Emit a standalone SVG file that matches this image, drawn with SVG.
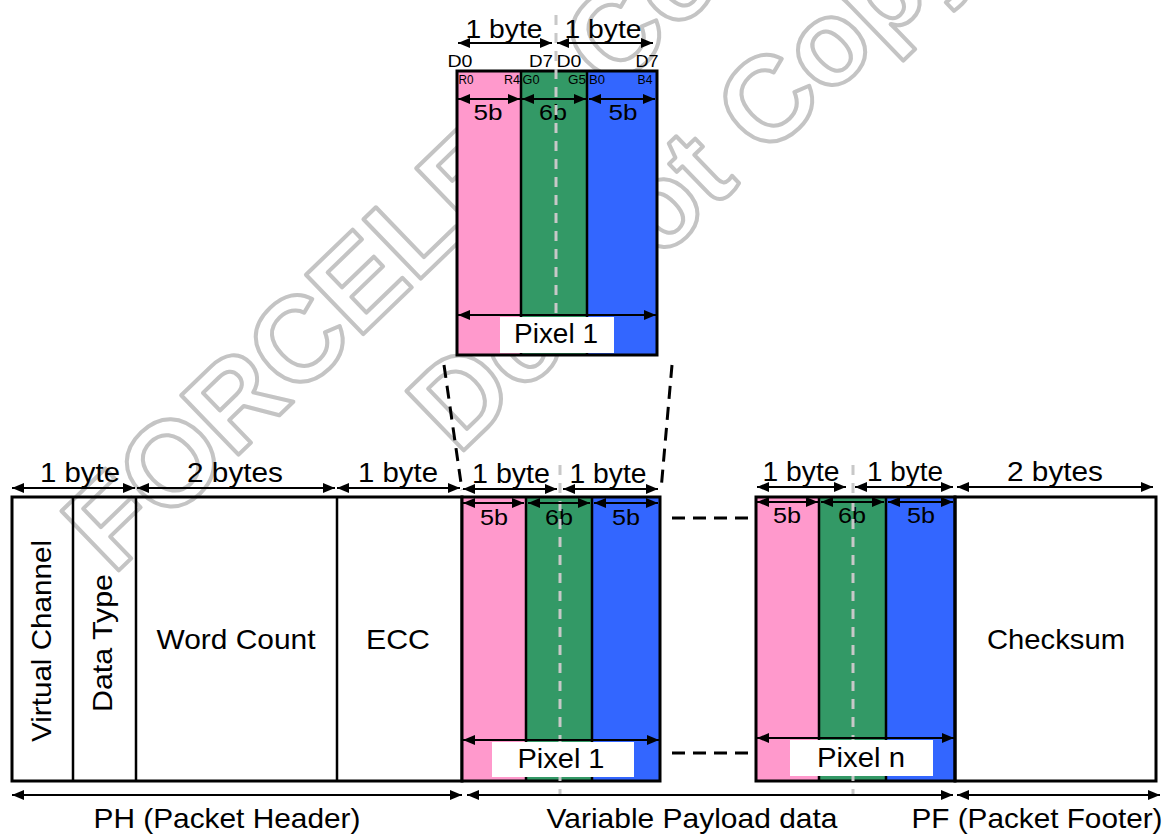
<svg xmlns="http://www.w3.org/2000/svg" width="1165" height="835" viewBox="0 0 1165 835">
<defs>
<marker id="ah" viewBox="0 0 12 10" refX="12" refY="5" markerWidth="12" markerHeight="10" markerUnits="userSpaceOnUse" orient="auto-start-reverse"><path d="M0,0 L12,5 L0,10 z" fill="#000"/></marker>
</defs>
<style>
.t{font-family:"Liberation Sans",Arial,sans-serif;fill:#000;text-anchor:middle}
.box{fill:none;stroke:#000;stroke-width:3}
.dv{stroke:#000;stroke-width:2.5}
.dim{stroke:#000;stroke-width:2;fill:none;marker-start:url(#ah);marker-end:url(#ah)}
.gd{stroke:#c8c8c8;stroke-width:3;stroke-dasharray:10 8}
.bd{stroke:#000;stroke-width:3;stroke-dasharray:13 8}
.wm{font-family:"Liberation Sans",Arial,sans-serif;font-weight:bold;font-size:120px;fill:none;stroke:#c4c4c4;stroke-width:4;stroke-linejoin:round}
.pk{fill:#ff99cc}.gr{fill:#339966}.bl{fill:#3366ff}
.wl{fill:#fff}
</style>
<rect width="1165" height="835" fill="#fff"/>

<g id="watermark">
<text class="wm" transform="translate(113,576) rotate(-44)">FORCELED Confidential</text>
<text class="wm" transform="translate(458,456) rotate(-44)">Do Not Copy</text>
</g>

<g id="packet-header">
<rect class="box" x="12" y="497" width="450" height="284"/>
<line class="dv" x1="73" y1="497" x2="73" y2="781"/>
<line class="dv" x1="136" y1="497" x2="136" y2="781"/>
<line class="dv" x1="337" y1="497" x2="337" y2="781"/>
<text class="t" font-size="28" transform="translate(51,641) rotate(-90)" textLength="202" lengthAdjust="spacingAndGlyphs">Virtual Channel</text>
<text class="t" font-size="28" transform="translate(112,643) rotate(-90)" textLength="138" lengthAdjust="spacingAndGlyphs">Data Type</text>
<text class="t" font-size="28" x="236" y="649" textLength="159" lengthAdjust="spacingAndGlyphs">Word Count</text>
<text class="t" font-size="28" x="398" y="649" textLength="64" lengthAdjust="spacingAndGlyphs">ECC</text>
</g>

<g id="pixel-zoom">
<rect class="pk" x="457" y="71" width="64" height="284"/>
<rect class="gr" x="521" y="71" width="66" height="284"/>
<rect class="bl" x="587" y="71" width="70" height="284"/>
<line class="dv" x1="521" y1="71" x2="521" y2="355"/>
<line class="dv" x1="587" y1="71" x2="587" y2="355"/>
<rect class="box" x="457" y="71" width="200" height="284"/>
<text class="t" font-size="16" x="460" y="67" textLength="25" lengthAdjust="spacingAndGlyphs">D0</text>
<text class="t" font-size="16" x="541" y="67" textLength="24" lengthAdjust="spacingAndGlyphs">D7</text>
<text class="t" font-size="16" x="569" y="67" textLength="25" lengthAdjust="spacingAndGlyphs">D0</text>
<text class="t" font-size="16" x="647" y="67" textLength="23" lengthAdjust="spacingAndGlyphs">D7</text>
<text class="t" font-size="12" x="466" y="84" textLength="15" lengthAdjust="spacingAndGlyphs">R0</text>
<text class="t" font-size="12" x="512" y="84" textLength="16" lengthAdjust="spacingAndGlyphs">R4</text>
<text class="t" font-size="12" x="531" y="84" textLength="17" lengthAdjust="spacingAndGlyphs">G0</text>
<text class="t" font-size="12" x="577" y="84" textLength="18" lengthAdjust="spacingAndGlyphs">G5</text>
<text class="t" font-size="12" x="597" y="84" textLength="16" lengthAdjust="spacingAndGlyphs">B0</text>
<text class="t" font-size="12" x="645" y="84" textLength="15" lengthAdjust="spacingAndGlyphs">B4</text>
<text class="t" font-size="22" x="488" y="120" textLength="29" lengthAdjust="spacingAndGlyphs">5b</text>
<text class="t" font-size="22" x="553" y="120" textLength="28" lengthAdjust="spacingAndGlyphs">6b</text>
<text class="t" font-size="22" x="623" y="120" textLength="29" lengthAdjust="spacingAndGlyphs">5b</text>
<line class="gd" x1="556" y1="15" x2="556" y2="355"/>
<rect class="wl" x="500" y="317" width="114" height="36"/>
<text class="t" font-size="28" x="556" y="343" textLength="84" lengthAdjust="spacingAndGlyphs">Pixel 1</text>
</g>

<g id="pixel-1">
<rect class="pk" x="462" y="497" width="64" height="284"/>
<rect class="gr" x="526" y="497" width="66" height="284"/>
<rect class="bl" x="592" y="497" width="68" height="284"/>
<line class="dv" x1="526" y1="497" x2="526" y2="781"/>
<line class="dv" x1="592" y1="497" x2="592" y2="781"/>
<rect class="box" x="462" y="497" width="198" height="284"/>
<text class="t" font-size="22" x="494" y="525" textLength="28" lengthAdjust="spacingAndGlyphs">5b</text>
<text class="t" font-size="22" x="559" y="525" textLength="28" lengthAdjust="spacingAndGlyphs">6b</text>
<text class="t" font-size="22" x="626" y="525" textLength="28" lengthAdjust="spacingAndGlyphs">5b</text>
<line class="gd" x1="560" y1="465" x2="560" y2="796"/>
<rect class="wl" x="492" y="742" width="142" height="35"/>
<text class="t" font-size="28" x="561" y="768" textLength="87" lengthAdjust="spacingAndGlyphs">Pixel 1</text>
</g>

<g id="pixel-n">
<rect class="pk" x="756" y="497" width="63" height="284"/>
<rect class="gr" x="819" y="497" width="67" height="284"/>
<rect class="bl" x="886" y="497" width="69" height="284"/>
<line class="dv" x1="819" y1="497" x2="819" y2="781"/>
<line class="dv" x1="886" y1="497" x2="886" y2="781"/>
<rect class="box" x="756" y="497" width="199" height="284"/>
<text class="t" font-size="22" x="787" y="523" textLength="28" lengthAdjust="spacingAndGlyphs">5b</text>
<text class="t" font-size="22" x="852" y="523" textLength="28" lengthAdjust="spacingAndGlyphs">6b</text>
<text class="t" font-size="22" x="921" y="523" textLength="28" lengthAdjust="spacingAndGlyphs">5b</text>
<line class="gd" x1="853" y1="465" x2="853" y2="796"/>
<rect class="wl" x="790" y="740" width="143" height="36"/>
<text class="t" font-size="28" x="861" y="767" textLength="88" lengthAdjust="spacingAndGlyphs">Pixel n</text>
</g>

<g id="checksum">
<rect class="box" x="955" y="497" width="201" height="284"/>
<text class="t" font-size="28" x="1056" y="649" textLength="138" lengthAdjust="spacingAndGlyphs">Checksum</text>
</g>

<g id="connectors">
<line class="bd" x1="444" y1="365" x2="462" y2="490"/>
<line class="bd" x1="672" y1="365" x2="661" y2="490"/>
<line class="bd" x1="672" y1="518" x2="752" y2="518"/>
<line class="bd" x1="672" y1="753" x2="752" y2="753"/>

<line class="dim" x1="458" y1="43" x2="552" y2="43"/>
<line class="dim" x1="557" y1="43" x2="653" y2="43"/>
<line class="dim" x1="458" y1="99" x2="520" y2="99"/>
<line class="dim" x1="522" y1="99" x2="586" y2="99"/>
<line class="dim" x1="589" y1="99" x2="655" y2="99"/>
<line class="dim" x1="458" y1="315" x2="656" y2="315"/>

<line class="dim" x1="12" y1="488" x2="135" y2="488"/>
<line class="dim" x1="137" y1="488" x2="335" y2="488"/>
<line class="dim" x1="337" y1="488" x2="460" y2="488"/>
<line class="dim" x1="463" y1="489" x2="557" y2="489"/>
<line class="dim" x1="563" y1="489" x2="658" y2="489"/>
<line class="dim" x1="463" y1="503" x2="524" y2="503"/>
<line class="dim" x1="528" y1="503" x2="590" y2="503"/>
<line class="dim" x1="594" y1="503" x2="658" y2="503"/>
<line class="dim" x1="463" y1="740" x2="659" y2="740"/>

<line class="dim" x1="757" y1="487" x2="846" y2="487"/>
<line class="dim" x1="855" y1="487" x2="953" y2="487"/>
<line class="dim" x1="757" y1="502" x2="818" y2="502"/>
<line class="dim" x1="821" y1="502" x2="884" y2="502"/>
<line class="dim" x1="888" y1="502" x2="953" y2="502"/>
<line class="dim" x1="757" y1="738" x2="954" y2="738"/>
<line class="dim" x1="957" y1="487" x2="1153" y2="487"/>

<line class="dim" x1="12" y1="795" x2="462" y2="795"/>
<line class="dim" x1="467" y1="795" x2="953" y2="795"/>
<line class="dim" x1="957" y1="795" x2="1160" y2="795"/>
</g>

<g id="labels">
<text class="t" font-size="26" x="504" y="38" textLength="77" lengthAdjust="spacingAndGlyphs">1 byte</text>
<text class="t" font-size="26" x="603" y="38" textLength="77" lengthAdjust="spacingAndGlyphs">1 byte</text>
<text class="t" font-size="27" x="80" y="482" textLength="80" lengthAdjust="spacingAndGlyphs">1 byte</text>
<text class="t" font-size="27" x="235" y="482" textLength="96" lengthAdjust="spacingAndGlyphs">2 bytes</text>
<text class="t" font-size="27" x="398" y="482" textLength="80" lengthAdjust="spacingAndGlyphs">1 byte</text>
<text class="t" font-size="27" x="511" y="483" textLength="78" lengthAdjust="spacingAndGlyphs">1 byte</text>
<text class="t" font-size="27" x="608" y="483" textLength="77" lengthAdjust="spacingAndGlyphs">1 byte</text>
<text class="t" font-size="27" x="801" y="481" textLength="77" lengthAdjust="spacingAndGlyphs">1 byte</text>
<text class="t" font-size="27" x="905" y="481" textLength="76" lengthAdjust="spacingAndGlyphs">1 byte</text>
<text class="t" font-size="27" x="1055" y="481" textLength="96" lengthAdjust="spacingAndGlyphs">2 bytes</text>
<text class="t" font-size="28" x="227" y="828" textLength="267" lengthAdjust="spacingAndGlyphs">PH (Packet Header)</text>
<text class="t" font-size="28" x="692" y="828" textLength="291" lengthAdjust="spacingAndGlyphs">Variable Payload data</text>
<text class="t" font-size="28" x="1037" y="828" textLength="251" lengthAdjust="spacingAndGlyphs">PF (Packet Footer)</text>
</g>
</svg>
